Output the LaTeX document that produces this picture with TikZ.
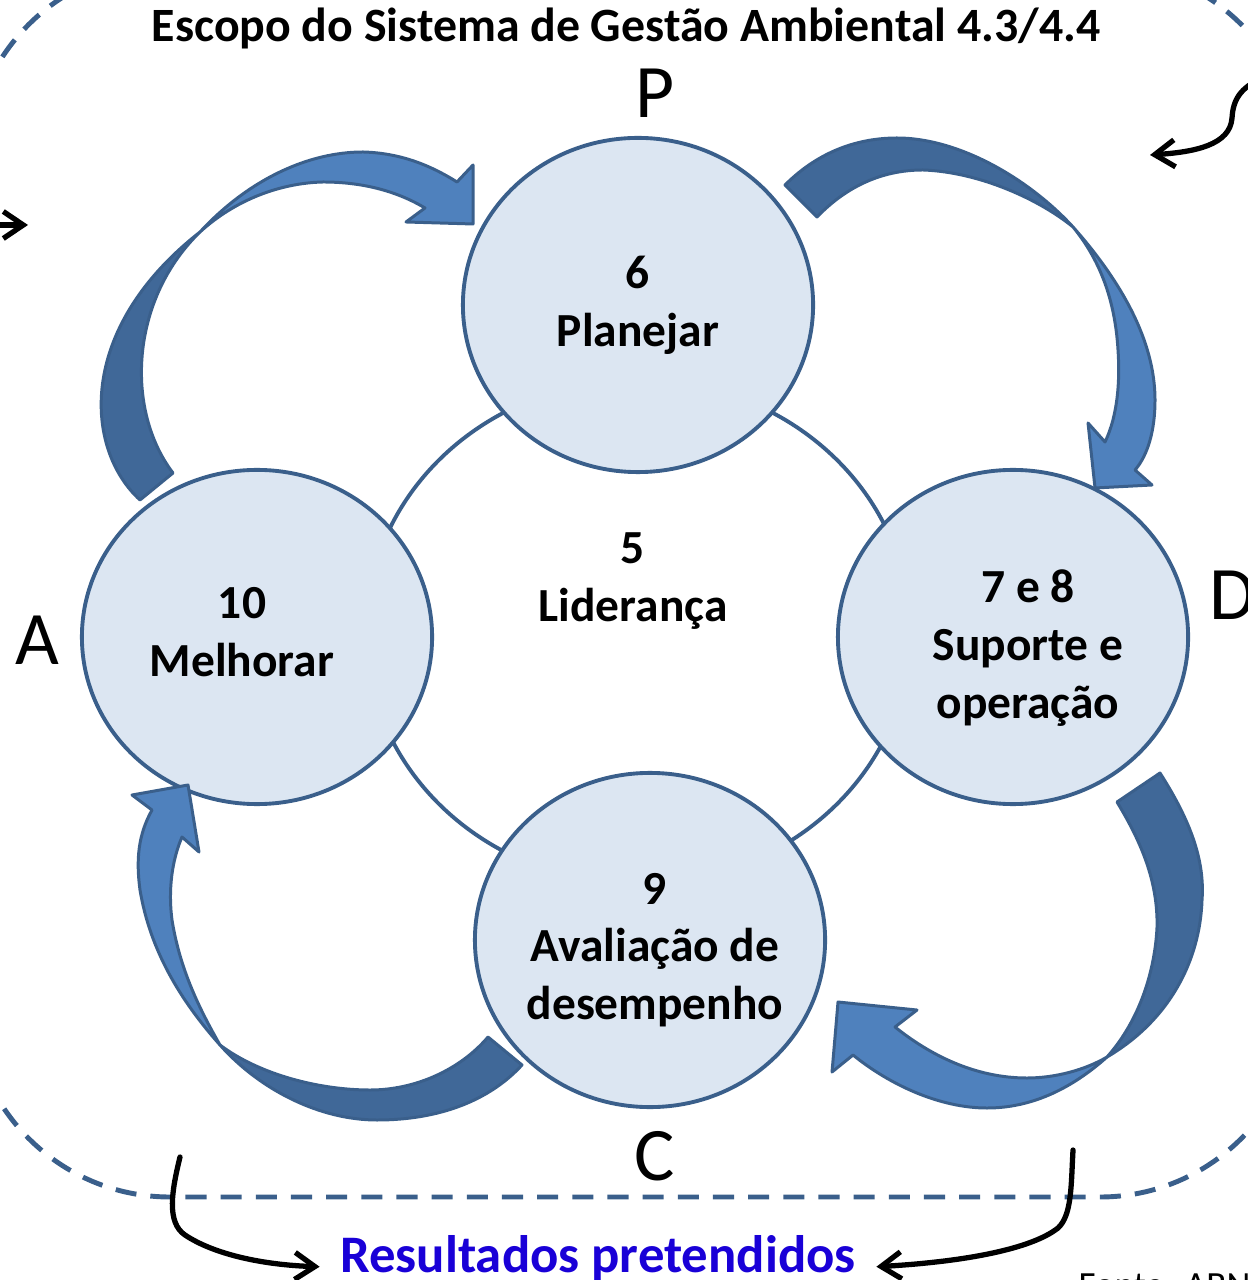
\documentclass[tikz,border=0pt]{standalone}
\usepackage{fontspec}
\setmainfont{Carlito}
\usetikzlibrary{arrows.meta,shapes.geometric,positioning}

\definecolor{rim}{RGB}{58,95,139}
\definecolor{disc}{RGB}{220,230,242}
\definecolor{bandlight}{RGB}{79,129,189}
\definecolor{banddark}{RGB}{64,104,152}
\definecolor{resblue}{RGB}{25,0,215}

\begin{document}
\begin{tikzpicture}[x=0.01cm,y=-0.01cm,>={Straight Barb[length=2mm,width=2.7mm]}]
  \tikzstyle{phase}=[ellipse,draw=rim,line width=1.1pt,fill=disc,minimum width=3.5cm,minimum height=3.34cm,inner sep=0pt]
  \tikzstyle{core}=[ellipse,draw=rim,line width=1.1pt,fill=white,minimum width=5.44cm,minimum height=5.04cm,inner sep=0pt]
  \tikzstyle{caption}=[align=center,font=\fontsize{13.5}{16.4}\selectfont\bfseries]
  \tikzstyle{letter}=[anchor=base,font=\fontsize{21.5}{24}\selectfont]
  \tikzstyle{bandback}=[fill=banddark,draw=rim,line width=0.85pt,line join=round]
  \tikzstyle{bandfront}=[fill=bandlight,draw=rim,line width=0.85pt,line join=round]
  \tikzstyle{flow}=[->,line width=1.5pt,line cap=round,black]

  \useasboundingbox (0,0) rectangle (1247,1280);

  % scope of the system
  \draw[rim,line width=1.4pt,dash pattern=on 6pt off 4pt,rounded corners=2cm] (-30,-34) rectangle (1300,1197);
  \node[anchor=base,font=\fontsize{13.6}{16}\selectfont\bfseries] (title) at (626,42) {Escopo do Sistema de Gestão Ambiental 4.3/4.4};

  \begin{scope}
    % leadership in the middle
    \node[core] (core) at (638,632) {};
    \node[caption] (lead) at (633,581) {5\\Liderança};
    % the four phases
    \node[phase,label={[caption]center:6\\Planejar}] (plan) at (638,305) {};
    \node[phase,label={[caption,xshift=-0.15cm,yshift=0.05cm]center:10\\Melhorar}] (act) at (257,637) {};
    \node[phase,label={[caption,xshift=0.15cm,yshift=-0.11cm]center:7 e 8\\Suporte e\\operação}] (do) at (1013,637) {};
    \node[phase,label={[caption,xshift=0.05cm,yshift=-0.1cm]center:9\\Avaliação de\\desempenho}] (check) at (650,940) {};
  \end{scope}

  \node[letter] (P) at (655,118) {P};
  \node[letter,anchor=base west] (D) at (1197,620) {D};
  \node[letter] (C) at (655,1180) {C};
  \node[letter] (A) at (37,665) {A};

  \begin{scope}
    % A -> P
    \filldraw[bandback] (140,500) .. controls (85,450) and (75,330) .. (200,232) .. controls (130,300) and (125,410) .. (173,473) -- cycle;
    \filldraw[bandfront] (200,232) .. controls (250,178) and (310,152) .. (363,152) .. controls (400,153) and (430,165) .. (457,182) -- (473,165) -- (473,224) -- (406,222) -- (425,208) .. controls (395,190) and (360,182) .. (323,182) .. controls (280,183) and (235,200) .. cycle;
    % P -> D
    \filldraw[bandback] (785,185) .. controls (820,150) and (860,138) .. (897,138) .. controls (960,138) and (1030,180) .. (1073,227) .. controls (1040,200) and (980,172) .. (923,170) .. controls (880,170) and (845,188) .. (817,217) -- cycle;
    \filldraw[bandfront] (1073,227) .. controls (1120,280) and (1155,340) .. (1155,400) .. controls (1155,430) and (1148,455) .. (1135,470) -- (1152,485) -- (1095,488) -- (1088,423) -- (1105,442) .. controls (1118,415) and (1120,380) .. (1118,350) .. controls (1115,300) and (1100,260) .. cycle;
    % D -> C
    \filldraw[bandback] (1160,773) .. controls (1190,820) and (1205,860) .. (1202,900) .. controls (1200,960) and (1170,1020) .. (1107,1057) .. controls (1140,1020) and (1155,970) .. (1157,927) .. controls (1158,880) and (1140,840) .. (1117,802) -- cycle;
    \filldraw[bandfront] (1107,1057) .. controls (1070,1090) and (1030,1108) .. (987,1108) .. controls (940,1108) and (890,1085) .. (853,1055) -- (832,1072) -- (838,1002) -- (917,1010) -- (895,1027) .. controls (930,1055) and (975,1078) .. (1027,1078) .. controls (1055,1078) and (1085,1070) .. cycle;
    % C -> A
    \filldraw[bandback] (522,1065) .. controls (490,1100) and (440,1120) .. (377,1120) .. controls (320,1120) and (260,1090) .. (220,1045) .. controls (260,1075) and (320,1090) .. (370,1090) .. controls (415,1090) and (460,1070) .. (488,1037) -- cycle;
    \filldraw[bandfront] (220,1045) .. controls (180,1000) and (150,950) .. (140,890) .. controls (136,860) and (138,835) .. (152,810) -- (132,795) -- (188,785) -- (199,852) -- (182,837) .. controls (172,860) and (168,890) .. (172,920) .. controls (180,970) and (200,1010) .. cycle;
  \end{scope}

  % inputs and outputs
  \node[anchor=base,font=\fontsize{15}{18}\selectfont\bfseries,text=resblue,inner xsep=0.2cm] (res) at (598,1272) {Resultados pretendidos};
  \node[anchor=base west,inner sep=0pt,font=\fontsize{10.5}{12}\selectfont] (src) at (1078,1297) {Fonte: ABNT};

  \coordinate (inL) at (-10,225);
  \coordinate (inLtip) at (28,225);
  \coordinate (inR) at (1262,78);
  \coordinate (inRtip) at (1150,155);
  \coordinate (outL) at (180,1157);
  \coordinate (outR) at (1073,1150);

  \draw[flow] (inL) -- (inLtip);
  \draw[flow] (inR) .. controls (1240,88) and (1233,100) .. (1232,118) .. controls (1230,145) and (1195,152) .. (inRtip);
  \draw[flow] (outL) .. controls (172,1190) and (166,1222) .. (185,1235) .. controls (215,1255) and (265,1265) .. ([yshift=1.5pt]res.base west);
  \draw[flow] (outR) .. controls (1071,1185) and (1072,1215) .. (1058,1228) .. controls (1030,1250) and (960,1262) .. ([yshift=1.5pt]res.base east);
\end{tikzpicture}
\end{document}
